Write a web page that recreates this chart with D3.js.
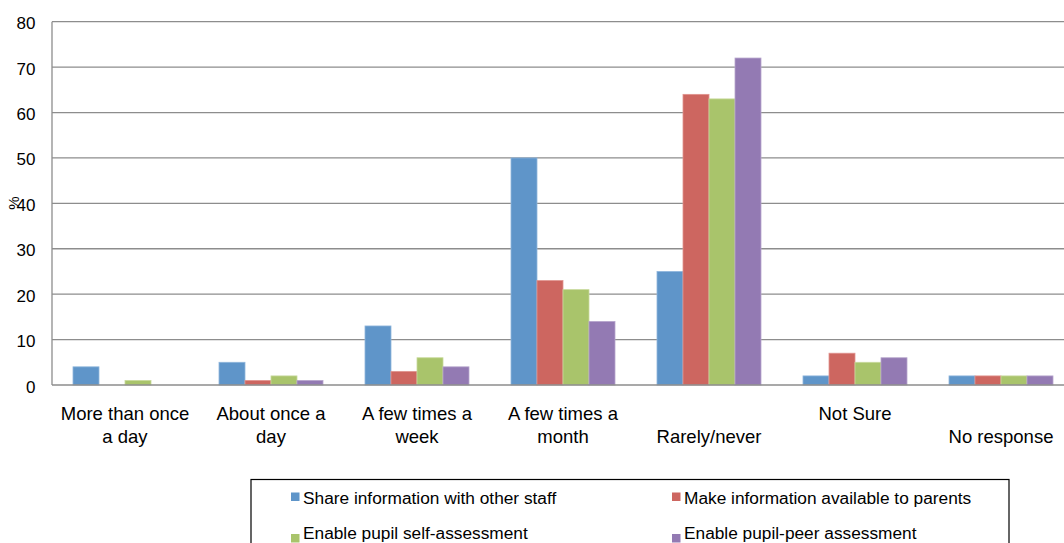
<!DOCTYPE html>
<html>
<head>
<meta charset="utf-8">
<script src="https://cdn.jsdelivr.net/npm/d3@7"></script>
<style>
  html, body { margin: 0; padding: 0; background: #fff; }
  svg { display: block; font-family: "Liberation Sans", Arial, sans-serif; }
</style>
</head>
<body>
<svg id="chart" width="1064" height="543"></svg>
<script>
// Frequency categories (a leading "\n" pushes a single-line label to the second row)
const categories = [
  "More than once\na day",
  "About once a\nday",
  "A few times a\nweek",
  "A few times a\nmonth",
  "\nRarely/never",
  "Not Sure",
  "\nNo response"
];

const seriesNames = [
  "Share information with other staff",
  "Make information available to parents",
  "Enable pupil self-assessment",
  "Enable pupil-peer assessment"
];

const shareStaff   = [4, 5, 13, 50, 25, 2, 2];
const parentsInfo  = [0, 1, 3, 23, 64, 7, 2];
const selfAssess   = [1, 2, 6, 21, 63, 5, 2];
const peerAssess   = [0, 1, 4, 14, 72, 6, 2];

const yTicks = [0, 10, 20, 30, 40, 50, 60, 70, 80];

const seriesValues = [shareStaff, parentsInfo, selfAssess, peerAssess];
const colors = ["#5F95C9", "#CD6660", "#A9C46B", "#937AB3"];
const edgeColors = ["#8FB6DC", "#E0948F", "#C8DA9C", "#B7A6CC"];

const svg = d3.select("#chart");

const left = 52, step = 146;
const x = d3.scaleBand()
  .domain(categories)
  .range([left, left + step * categories.length])
  .padding(0);

const xs = d3.scaleBand()
  .domain(d3.range(seriesNames.length))
  .range([21, 125])
  .padding(0);

const y = d3.scaleLinear().domain([0, 80]).range([385, 21.7]);

// Horizontal gridlines
svg.append("g")
  .selectAll("line")
  .data(yTicks.filter(t => t > 0))
  .join("line")
  .attr("x1", left)
  .attr("x2", 1064)
  .attr("y1", d => y(d))
  .attr("y2", d => y(d))
  .attr("stroke", "#8d8d8d")
  .attr("stroke-width", 1.3);

// Bars
const groups = svg.append("g")
  .selectAll("g")
  .data(categories)
  .join("g")
  .attr("transform", d => `translate(${x(d)},0)`);

groups.selectAll("rect")
  .data((d, i) => seriesValues.map((vals, s) => ({ s, v: vals[i] })).filter(e => e.v > 0))
  .join("rect")
  .attr("x", d => xs(d.s))
  .attr("width", xs.bandwidth())
  .attr("y", d => y(d.v))
  .attr("height", d => y(0) - y(d.v))
  .attr("fill", d => colors[d.s])
  .attr("stroke", d => edgeColors[d.s])
  .attr("stroke-width", 0.8);

// Axis lines
svg.append("line")
  .attr("x1", left).attr("x2", left)
  .attr("y1", y(80)).attr("y2", y(0))
  .attr("stroke", "#8d8d8d").attr("stroke-width", 1.3);
svg.append("line")
  .attr("x1", left).attr("x2", 1064)
  .attr("y1", y(0)).attr("y2", y(0))
  .attr("stroke", "#8d8d8d").attr("stroke-width", 1.3);

// Y tick labels
svg.append("g")
  .selectAll("text")
  .data(yTicks)
  .join("text")
  .attr("x", 35.5)
  .attr("y", d => y(d) + 7.5)
  .attr("text-anchor", "end")
  .attr("font-size", 17)
  .attr("fill", "#000")
  .text(d => d);

// Y axis title
svg.append("text")
  .attr("transform", "translate(19,203) rotate(-90)")
  .attr("text-anchor", "middle")
  .attr("font-size", 15)
  .text("%");

// Category labels
const xl = svg.append("g")
  .selectAll("text")
  .data(categories)
  .join("text")
  .attr("text-anchor", "middle")
  .attr("font-size", 18.5)
  .attr("fill", "#000");

xl.each(function(d) {
  const lines = d.split("\n");
  const cx = x(d) + x.bandwidth() / 2;
  d3.select(this).selectAll("tspan")
    .data(lines)
    .join("tspan")
    .attr("x", cx)
    .attr("y", (l, i) => 420 + i * 22.5)
    .text(l => l);
});

// Legend
const legend = svg.append("g");
legend.append("rect")
  .attr("x", 251).attr("y", 479.5)
  .attr("width", 758).attr("height", 80)
  .attr("fill", "#fff")
  .attr("stroke", "#000")
  .attr("stroke-width", 1.2);

// [marker x, text baseline, marker top]
const legendPos = [[291, 503.5, 492.5], [672, 503.5, 492.5], [291, 539, 534], [672, 539, 534]];
const items = legend.selectAll("g.item")
  .data(seriesNames)
  .join("g")
  .attr("class", "item");

items.append("rect")
  .attr("x", (d, i) => legendPos[i][0])
  .attr("y", (d, i) => legendPos[i][2])
  .attr("width", 8.5).attr("height", 8.5)
  .attr("fill", (d, i) => colors[i]);

items.append("text")
  .attr("x", (d, i) => legendPos[i][0] + 12)
  .attr("y", (d, i) => legendPos[i][1])
  .attr("font-size", 17.3)
  .attr("fill", "#000")
  .text(d => d);
</script>
</body>
</html>
